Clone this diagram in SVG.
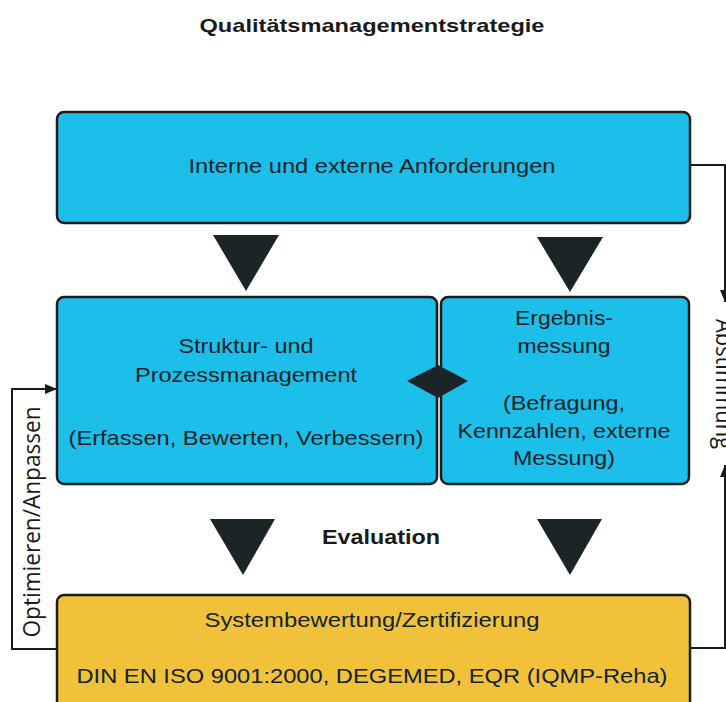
<svg xmlns="http://www.w3.org/2000/svg" width="726" height="702" viewBox="0 0 726 702">
<defs>
<marker id="ah" viewBox="0 0 12 10" refX="12" refY="5" markerWidth="12" markerHeight="10" markerUnits="userSpaceOnUse" orient="auto">
<path d="M0,0 L12,5 L0,10 Z" fill="#1a1a1a"/>
</marker>
<style>
.blue{fill:#1cbfe9;stroke:#1c1c1c;stroke-width:2.5}
.yellow{fill:#f1c13a;stroke:#1c1c1c;stroke-width:2.5}
.t{font-family:"Liberation Sans",Arial,sans-serif;font-size:21px;fill:#14222a;text-anchor:middle}
.b{font-family:"Liberation Sans",Arial,sans-serif;font-weight:bold;fill:#1a1a1a;text-anchor:middle}
.side{font-family:"Open Sans","DejaVu Sans",sans-serif;font-size:23px;fill:#1a1a1a;text-anchor:middle}
.tri{fill:#1b2527}
.con{fill:none;stroke:#1a1a1a;stroke-width:2}
</style>
</defs>
<rect width="726" height="702" fill="#ffffff"/>
<text class="b" x="372" y="32" font-size="19" textLength="345" lengthAdjust="spacingAndGlyphs">Qualitätsmanagementstrategie</text>

<g id="connectors">
<path class="con" d="M690,165 H725 V302" marker-end="url(#ah)"/>
<path class="con" d="M690,648 H725 V465" marker-end="url(#ah)"/>
<path class="con" d="M57,649 H12 V389 H57" marker-end="url(#ah)"/>
<polygon class="tri" points="213,235 279,235 246,291"/>
<polygon class="tri" points="537,237 603,237 570,292"/>
<polygon class="tri" points="210,519 275,519 243,575"/>
<polygon class="tri" points="537,519 602,519 570,575"/>
<text class="side" transform="translate(40,522) rotate(-90)" textLength="231" lengthAdjust="spacingAndGlyphs">Optimieren/Anpassen</text>
<text class="side" transform="translate(716,384) rotate(90)" textLength="130" lengthAdjust="spacingAndGlyphs">Abstimmung</text>
<text class="b" x="381" y="544" font-size="21" textLength="118" lengthAdjust="spacingAndGlyphs">Evaluation</text>
</g>

<g id="anforderungen">
<rect class="blue" x="57" y="112" width="633" height="111" rx="7"/>
<text class="t" x="372" y="173" textLength="367" lengthAdjust="spacingAndGlyphs">Interne und externe Anforderungen</text>
</g>

<g id="struktur">
<rect class="blue" x="57" y="297" width="380" height="187" rx="7"/>
<text class="t" x="246" y="353" textLength="135" lengthAdjust="spacingAndGlyphs">Struktur- und</text>
<text class="t" x="246" y="382" textLength="222" lengthAdjust="spacingAndGlyphs">Prozessmanagement</text>
<text class="t" x="246" y="445" textLength="355" lengthAdjust="spacingAndGlyphs">(Erfassen, Bewerten, Verbessern)</text>
</g>

<g id="ergebnis">
<rect class="blue" x="441" y="297" width="248" height="187" rx="7"/>
<text class="t" x="564" y="325" textLength="98" lengthAdjust="spacingAndGlyphs">Ergebnis-</text>
<text class="t" x="564" y="353" textLength="93" lengthAdjust="spacingAndGlyphs">messung</text>
<text class="t" x="564" y="410" textLength="122" lengthAdjust="spacingAndGlyphs">(Befragung,</text>
<text class="t" x="564" y="438" textLength="213" lengthAdjust="spacingAndGlyphs">Kennzahlen, externe</text>
<text class="t" x="564" y="465" textLength="102" lengthAdjust="spacingAndGlyphs">Messung)</text>
</g>

<g id="diamond">
<polygon class="tri" points="407,381 438,365 468,381 438,398"/>
</g>

<g id="systembewertung">
<rect class="yellow" x="57" y="595" width="633" height="120" rx="7"/>
<text class="t" x="372" y="627" textLength="335" lengthAdjust="spacingAndGlyphs">Systembewertung/Zertifizierung</text>
<text class="t" x="372" y="683" textLength="591" lengthAdjust="spacingAndGlyphs">DIN EN ISO 9001:2000, DEGEMED, EQR (IQMP-Reha)</text>
</g>
</svg>
